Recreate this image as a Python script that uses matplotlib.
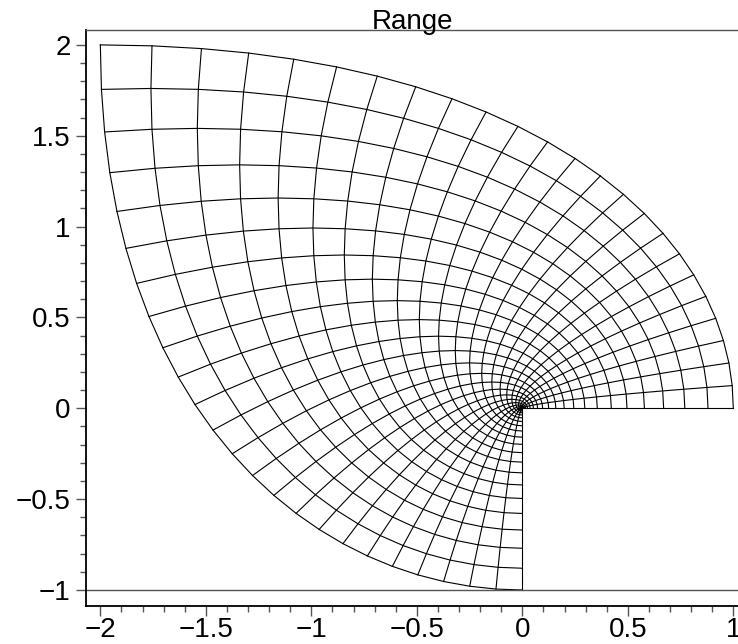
import numpy as np
import matplotlib
matplotlib.use("Agg")
import matplotlib.pyplot as plt
from matplotlib.ticker import MultipleLocator, FuncFormatter

# Conformal plot of w = z^3 over the square z = 0 .. 1+i
z_start = 0 + 0j
z_end = 1 + 1j
grid_lines = [25, 25]      # number of grid lines in x and y
title_text = "Range"
x_ticks = [-2, -1.5, -1, -0.5, 0, 0.5, 1]
y_ticks = [-1, -0.5, 0, 0.5, 1, 1.5, 2]


def f(z):
    return z ** 3


plt.rcParams['font.family'] = ['Liberation Sans', 'DejaVu Sans']
fig = plt.figure(figsize=(7.38, 6.44), dpi=100)
W, H = 738, 644
x_lo, x_hi = -2.068, 1.10
y_lo, y_hi = -1.088, 2.082
left_px, right_px = 86, 522.3 + 211 * x_hi
bot_px, top_px = 606, 30
ax = fig.add_axes([left_px / W, (H - bot_px) / H,
                   (right_px - left_px) / W, (bot_px - top_px) / H])

xs = np.linspace(z_start.real, z_end.real, grid_lines[0])
ys = np.linspace(z_start.imag, z_end.imag, grid_lines[1])
for xv in xs:
    w = f(xv + 1j * ys)
    ax.plot(w.real, w.imag, color='black', lw=0.8, solid_joinstyle='miter')
for yv in ys:
    w = f(xs + 1j * yv)
    ax.plot(w.real, w.imag, color='black', lw=0.8, solid_joinstyle='miter')

ax.axhline(-1, color='#555555', lw=1.0)

ax.set_xlim(x_lo, x_hi)
ax.set_ylim(y_lo, y_hi)
ax.set_xticks(x_ticks)
ax.set_yticks(y_ticks)
ax.xaxis.set_minor_locator(MultipleLocator(0.1))
ax.yaxis.set_minor_locator(MultipleLocator(0.1))


def fmt(v, pos):
    s = ('%g' % v)
    return s.replace('-', '\u2212')


ax.xaxis.set_major_formatter(FuncFormatter(fmt))
ax.yaxis.set_major_formatter(FuncFormatter(fmt))
ax.tick_params(which='major', length=7, width=1, color='#555555',
               labelsize=20)
ax.tick_params(axis='x', which='major', pad=1)
ax.tick_params(axis='y', which='major', pad=4)
ax.tick_params(which='minor', length=4, width=1, color='#555555')
ax.spines['right'].set_visible(False)
ax.spines['left'].set_color('black')
ax.spines['left'].set_linewidth(1.3)
ax.spines['bottom'].set_color('black')
ax.spines['bottom'].set_linewidth(1.3)
ax.spines['top'].set_color('#555555')
ax.spines['top'].set_linewidth(1.0)

fig.text(412 / W, 1 - 29 / H, title_text, ha='center', va='baseline',
         fontsize=20)

fig.savefig("out.png", dpi=100)
